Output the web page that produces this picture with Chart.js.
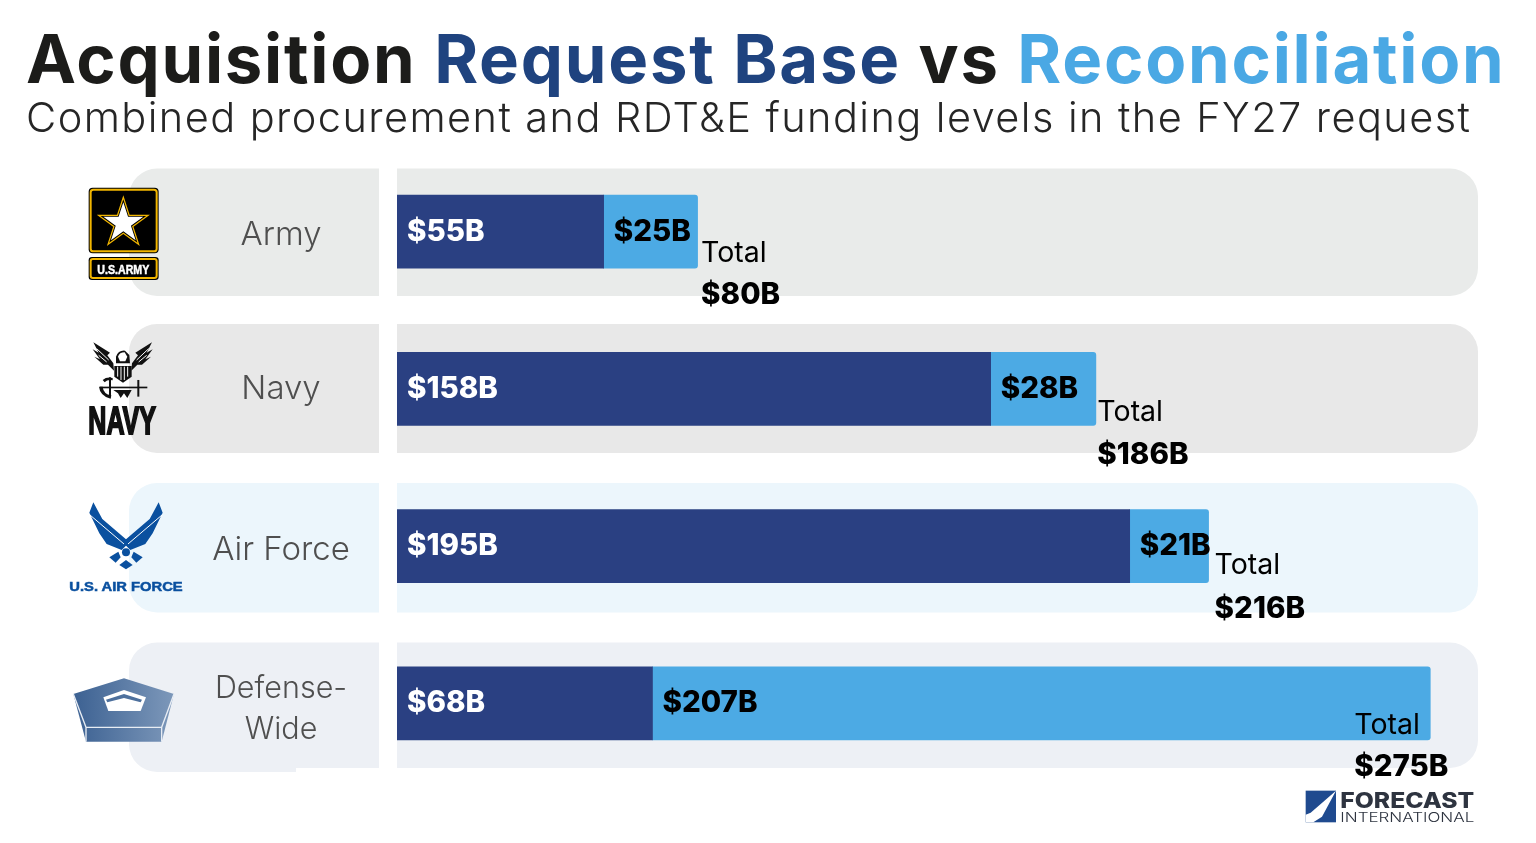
<!DOCTYPE html>
<html>
<head>
<meta charset="utf-8">
<title>Acquisition Request Base vs Reconciliation</title>
<script src="https://cdn.jsdelivr.net/npm/chart.js@4"></script>
<style>
  html, body { margin: 0; padding: 0; background: #fff; overflow: hidden; }
  #page { position: relative; width: 1536px; height: 843px; font-family: Inter, sans-serif; }
  canvas, svg { position: absolute; left: 0; top: 0; }
  .head { position: absolute; left: 26px; white-space: nowrap; }
  #title { top: 17px; font-size: 67px; line-height: 84px; font-weight: 700; color: #1c1c1a; letter-spacing: 1.76px; }
  #sub { top: 91px; font-size: 41.5px; line-height: 52px; font-weight: 300; color: #262626; letter-spacing: 1.43px; }
  .base { color: #1f437f; }
  .recon { color: #4aa8e4; }
</style>
</head>
<body>
<div id="page">
  <canvas id="chart" width="1536" height="843"></canvas>
  <div class="head" id="title">Acquisition <span class="base">Request Base</span> vs <span class="recon">Reconciliation</span></div>
  <div class="head" id="sub">Combined procurement and RDT&amp;E funding levels in the FY27 request</div>

  <svg width="1536" height="843" viewBox="0 0 1536 843">
    <defs>
      <polygon id="star" points="0,-1 .225,-.309 .951,-.309 .363,.118 .588,.809 0,.382 -.588,.809 -.363,.118 -.951,-.309 -.225,-.309"/>
      <linearGradient id="pent" x1="0" x2="1" y1="0" y2="0">
        <stop offset="0" stop-color="#3c6192"/><stop offset="1" stop-color="#7d98ba"/>
      </linearGradient>
    </defs>

    <!-- army + navy logos -->
    <g transform="translate(50,160) scale(.3333)">
      <rect x="116" y="83" width="210" height="197" rx="12" fill="#000"/>
      <rect x="122" y="89" width="198" height="185" rx="8" fill="none" stroke="#f2b600" stroke-width="6"/>
      <use href="#star" transform="translate(220,190) scale(84)" fill="#f2b600"/>
      <use href="#star" transform="translate(220,190) scale(72)" fill="#000"/>
      <use href="#star" transform="translate(220,190) scale(63)" fill="#fff"/>
      <rect x="116" y="291" width="210" height="69" rx="10" fill="#000"/>
      <rect x="122" y="297" width="198" height="57" rx="7" fill="none" stroke="#f2b600" stroke-width="6"/>
      <text x="142" y="342" font-family="Liberation Sans" font-weight="700" font-size="41" fill="#fff" stroke="#fff" stroke-width="1.5" textLength="156" lengthAdjust="spacingAndGlyphs">U.S.ARMY</text>

      <g fill="#111">
        <path id="wing" d="M130,547 L180,578 L172,586 L190,610 L192,632 L174,614 L160,614 L133,590 L150,598 L128,568 L146,578 Z"/>
        <use href="#wing" transform="translate(436,0) scale(-1,1)"/>
        <path d="M198,590 Q205,570 225,572 L238,585 L240,610 L198,610 Z"/>
        <path d="M193,618 H245 V650 L219,668 L193,650 Z"/>
        <rect x="150" y="680" width="142" height="5"/>
        <rect x="262" y="660" width="6" height="50"/>
        <rect x="177" y="652" width="6" height="60"/>
        <path d="M147,680 Q150,708 182,716 L184,706 Q160,702 158,680 Z"/>
        <path d="M158,660 Q170,650 188,654 L188,661 Q172,658 164,667 Z"/>
        <path d="M190,690 L245,690 L232,714 L222,700 L212,714 L204,700 Z"/>
        <text x="115" y="822" font-family="Liberation Sans" font-weight="700" font-size="118" stroke="#111" stroke-width="6" textLength="203" lengthAdjust="spacingAndGlyphs">NAVY</text>
      </g>
      <g stroke="#fff" stroke-width="3" fill="none">
        <path d="M140,566 L176,600 M146,586 L170,606"/>
        <path d="M296,566 L260,600 M290,586 L266,606"/>
        <path d="M203,620 V650 M213,620 V660 M223,620 V660 M233,620 V650"/>
      </g>
      <path d="M204,590 Q208,577 224,577 L232,590 L226,604 L210,604 Z" fill="#fff"/>
    </g>

    <!-- air force + pentagon logos -->
    <g transform="translate(50,470) scale(.3333)">
      <g fill="#0a509f">
        <path id="afwing" d="M130,97 L157,147 L228,208 L233,222 L215,240 L170,222 L148,190 L118,128 Z"/>
        <use href="#afwing" transform="translate(456,0) scale(-1,1)"/>
        <circle cx="228" cy="247" r="12"/>
        <path id="afdia" d="M178,262 L205,245 L212,262 L197,278 Z"/>
        <use href="#afdia" transform="translate(456,0) scale(-1,1)"/>
        <path d="M228,270 L248,285 L228,298 L208,285 Z"/>
        <text x="58" y="362" font-family="Liberation Sans" font-weight="700" font-size="38" stroke="#0a509f" stroke-width="1.5" textLength="340" lengthAdjust="spacingAndGlyphs">U.S. AIR FORCE</text>
      </g>
      <g stroke="#fff" stroke-width="3" fill="none">
        <path d="M120,135 L222,222"/>
        <path d="M336,135 L234,222"/>
      </g>

      <path d="M222,625 L372,672 L335,815 L108,815 L70,672 Z" fill="url(#pent)"/>
      <path d="M70,672 L108,772 H335 L372,672 M108,772 V815 M335,772 V815" fill="none" stroke="#e8edf4" stroke-width="4"/>
      <path d="M222,660 L288,682 L272,723 H175 L160,682 Z" fill="#fff"/>
      <path d="M222,672 L276,689 L272,697 L222,684 L172,697 L168,689 Z" fill="#4d709d"/>
    </g>

    <!-- forecast international logo -->
    <g transform="translate(1280,640) scale(.3333)">
      <rect x="77" y="452" width="91" height="95" fill="#1f4a8f"/>
      <path d="M168,452 L92,518 L77,524 V547 H100 L126,530 Z" fill="#fff"/>
      <text x="181" y="505" font-family="Inter" font-weight="800" font-size="65" fill="#2e3440" textLength="402" lengthAdjust="spacingAndGlyphs">FORECAST</text>
      <text x="181" y="546" font-family="Inter" font-weight="300" font-size="41" fill="#2e3440" textLength="402" lengthAdjust="spacingAndGlyphs">INTERNATIONAL</text>
    </g>
  </svg>
</div>

<script>
// values in $B
const categories = ['Army', 'Navy', 'Air Force', ['Defense-', 'Wide']];
const baseValues = [55, 158, 195, 68];
const reconValues = [25, 28, 21, 207];
const totals = [80, 186, 216, 275];
const maxValue = 287.7;

// row panels behind the bars
const panelTops = [168.5, 324, 483, 642.5];
const panelBottoms = [296, 453, 612.5, 768];
const panelColors = ['#e9ebea', '#e8e8e8', '#ecf6fc', '#edf0f5'];

const money = v => '$' + v + 'B';

const rowPanels = {
    id: 'rowPanels',
    beforeDraw(chart) {
        const c = chart.ctx, a = chart.chartArea;
        c.save();
        panelTops.forEach((top, i) => {
            const h = panelBottoms[i] - top;
            c.fillStyle = panelColors[i];
            c.beginPath();
            c.roundRect(129, top, 250, h, [28, 0, 0, 28]);
            c.fill();
            c.beginPath();
            c.roundRect(a.left, top, a.right - a.left, h, [0, 28, 28, 0]);
            c.fill();
        });
        // the last left panel hangs a bit lower under the logo
        c.fillStyle = panelColors[3];
        c.beginPath();
        c.roundRect(129, 740, 167, 32, [0, 0, 0, 28]);
        c.fill();
        c.restore();
    }
};

const barLabels = {
    id: 'barLabels',
    afterDatasetsDraw(chart) {
        const c = chart.ctx;
        const baseBars = chart.getDatasetMeta(0).data;
        const reconBars = chart.getDatasetMeta(1).data;
        c.save();
        c.textBaseline = 'middle';
        baseBars.forEach((bar, i) => {
            // service name in the left panel
            c.textAlign = 'center';
            c.font = i === 3 ? '300 30.5px Inter' : '300 33px Inter';
            c.fillStyle = '#4f4f4f';
            const lines = [].concat(categories[i]);
            const nameDy = [3.5, 0.5, 3.5, -15][i];
            lines.forEach((line, k) => c.fillText(line, 281, bar.y + nameDy + k * 41));

            c.textAlign = 'left';
            c.font = '800 29.5px Inter';
            c.fillStyle = '#fff';
            c.fillText(money(baseValues[i]), bar.base + 10, bar.y);
            c.fillStyle = '#000';
            c.fillText(money(reconValues[i]), reconBars[i].base + 10, bar.y);

            // total sits under the end of the bar, inside it for the last row
            const nudge = [3.5, 1.5, 6, -76][i];
            c.font = '400 28.5px Inter';
            c.fillText('Total', reconBars[i].x + nudge, bar.y + 22 + [0, 2, -3, 0][i]);
            c.font = '800 29.5px Inter';
            c.fillText(money(totals[i]), reconBars[i].x + nudge, bar.y + 63 + [0, 3, 0, 1][i]);
        });
        c.restore();
    }
};

new Chart(document.getElementById('chart'), {
    type: 'bar',
    data: {
        labels: categories,
        datasets: [
            { label: 'Base', data: baseValues, backgroundColor: '#2a4082', borderRadius: 0 },
            { label: 'Reconciliation', data: reconValues, backgroundColor: '#4caae4',
              borderRadius: { topRight: 3, bottomRight: 3 }, borderSkipped: false }
        ]
    },
    options: {
        indexAxis: 'y',
        responsive: false,
        animation: false,
        events: [],
        barThickness: 73,
        layout: { padding: { left: 397, right: 58, top: 153, bottom: 61 } },
        plugins: { legend: { display: false }, tooltip: { enabled: false }, title: { display: false } },
        scales: {
            x: { stacked: true, min: 0, max: maxValue, display: false },
            y: { stacked: true, display: false }
        }
    },
    plugins: [rowPanels, barLabels]
});
</script>
</body>
</html>
